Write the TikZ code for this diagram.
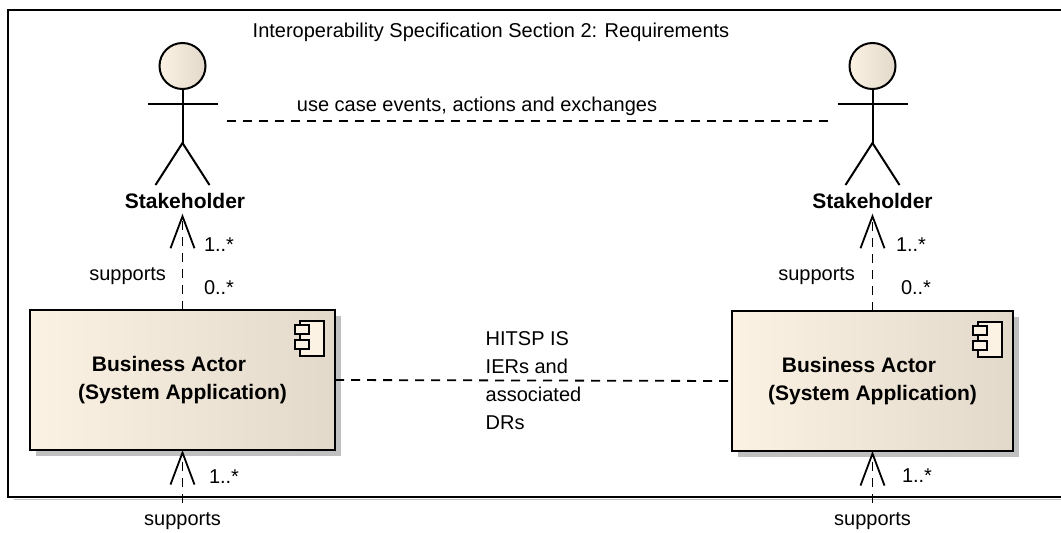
\documentclass[tikz,border=0pt]{standalone}
\usepackage{fontspec}
\setmainfont{Liberation Sans}
\usetikzlibrary{arrows.meta,shadows}
\definecolor{creamL}{RGB}{251,242,228}
\definecolor{creamR}{RGB}{226,217,202}
\definecolor{shadowgray}{RGB}{192,192,192}
\begin{document}
\begin{tikzpicture}[x=1pt,y=-1pt,
  every node/.style={inner sep=0pt, outer sep=0pt},
  txt/.style={font=\fontsize{20}{28}\selectfont},
  boldtxt/.style={font=\fontsize{21}{28}\selectfont\bfseries},
  thinline/.style={line width=2pt},
  dline/.style={line width=1.8pt, dash pattern=on 9pt off 7pt},
  dep/.style={dline, -{Straight Barb[length=32pt,width=24pt,line width=1.8pt]}},
  actorbox/.style={minimum width=88pt, minimum height=132pt},
  comp/.style={draw, line width=2.2pt, left color=creamL, right color=creamR,
    drop shadow={shadow xshift=6pt, shadow yshift=-6pt, fill=shadowgray, opacity=1},
    minimum height=140pt, align=center, boldtxt},
  stickman/.pic={
    \draw[thinline, left color=creamL, right color=creamR] (0,-55) circle (23);
    \draw[thinline] (-35,-17) -- (35,-17);
    \draw[thinline] (0,-32) -- (0,22);
    \draw[thinline] (-27,64) -- (0,22) -- (27,64);
  },
  compicon/.pic={
    \draw[line width=1.6pt, fill=creamL] (-35,11) rectangle (-11,46);
    \draw[line width=1.6pt, fill=creamL] (-40,15) rectangle (-26,24);
    \draw[line width=1.6pt, fill=creamL] (-40,30) rectangle (-26,39);
  }
]
\useasboundingbox (0,0) rectangle (1061,533);
% frame
\draw[shadowgray, line width=1pt] (14,499.5) -- (1061,499.5);
\draw[thinline] (1061,10) -- (8,10) -- (8,497) -- (1061,497);
\node[txt] (title) at (491,32) {Interoperability Specification Section 2: Requirements};

% actors
\node[actorbox] (a1) at (182.5,121) {};
\node[actorbox] (a2) at (872.5,121) {};
\pic at (a1.center) {stickman};
\pic at (a2.center) {stickman};
\node[boldtxt, inner sep=5pt] (s1) at (185,201) {Stakeholder};
\node[boldtxt, inner sep=5pt] (s2) at (872.5,201) {Stakeholder};

\draw[dline] (a1.east) -- (a2.west);
\node[txt] (uc) at (477,106) {use case events, actions and exchanges};

% components
\node[comp, minimum width=305pt] (b1) at (182.5,380) {Business Actor\makebox[27pt]{}\\(System Application)};
\node[comp, minimum width=281pt] (b2) at (872.5,381) {Business Actor\makebox[27pt]{}\\(System Application)};
\pic at (b1.north east) {compicon};
\pic at (b2.north east) {compicon};

\draw[dline] (b1.east) -- node[txt, align=left] (hitsp) {HITSP IS\\IERs and\\associated\\DRs} (b2.west);

% upper dependencies
\draw[dep] (b1.north) -- (b1.north |- s1.south);
\draw[dep] (b2.north) -- (s2.south);
\node[txt, anchor=west] (m1a) at (204,245) {1..*};
\node[txt, anchor=east] (sp1) at (166,276) {supports};
\node[txt, anchor=west] (m1b) at (204,288) {0..*};
\node[txt, anchor=west] (m2a) at (896,245) {1..*};
\node[txt, anchor=east] (sp2) at (855,276) {supports};
\node[txt, anchor=west] (m2b) at (901,288) {0..*};

% lower dependencies
\coordinate (e1) at (182.5,503);
\coordinate (e2) at (872.5,503);
\draw[dep] (e1) -- (b1.south);
\draw[dep] (e2) -- (b2.south);
\node[txt, anchor=west] (m3) at (209,477) {1..*};
\node[txt, anchor=west] (m4) at (902,476) {1..*};
\node[txt] (sp3) at (182.5,521) {supports};
\node[txt] (sp4) at (872.5,521) {supports};
\end{tikzpicture}
\end{document}
